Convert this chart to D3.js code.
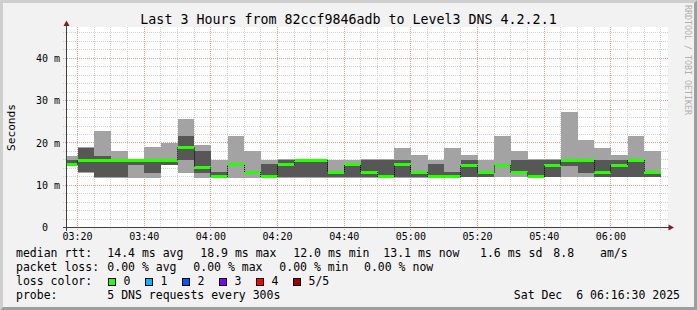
<!DOCTYPE html>
<html>
<meta charset="utf-8">
<style>
  body { margin: 0; background: #f2f2f2; }
  svg text { font-family: "DejaVu Sans Mono", monospace; fill: #000; white-space: pre; }
</style>
<svg width="697" height="310"></svg>
<script src="https://d3js.org/d3.v7.min.js"></script>
<script>

  // end time of each 5 minute step
  var stepEnds = ["03:20", "03:25", "03:30", "03:35", "03:40", "03:45", "03:50", "03:55", "04:00",
    "04:05", "04:10", "04:15", "04:20", "04:25", "04:30", "04:35", "04:40", "04:45", "04:50",
    "04:55", "05:00", "05:05", "05:10", "05:15", "05:20", "05:25", "05:30", "05:35", "05:40",
    "05:45", "05:50", "05:55", "06:00", "06:05", "06:10", "06:15"];

  // 5 pings per step, sorted: min, 2nd, median, 4th, max (ms)
  var pingMin = [14.5, 13.0, 11.8, 11.8, 11.8, 11.8, 14.7, 13.0, 11.8, 11.8, 11.8, 11.8, 11.8, 11.8, 11.8, 11.8, 11.8, 11.8,
    11.8, 11.8, 11.8, 11.8, 11.8, 11.8, 11.9, 11.9, 11.9, 11.9, 11.8, 11.9, 11.9, 11.9, 11.9, 11.9, 11.9, 11.9];
  var ping2 = [14.6, 13.1, 11.9, 11.9, 14.7, 13.0, 14.8, 15.9, 13.0, 11.9, 14.6, 12.9, 11.9, 11.9, 11.9, 11.9, 11.9, 11.9,
    11.9, 11.9, 11.9, 11.9, 11.9, 11.9, 12.0, 12.0, 14.5, 12.8, 11.9, 12.0, 14.6, 13.0, 12.0, 12.0, 12.0, 12.0];
  var pingMedian = [14.9, 15.9, 15.9, 15.9, 15.9, 15.9, 15.9, 18.9, 14.2, 12.0, 14.8, 13.1, 12.0, 14.8, 15.9, 15.9, 13.1, 14.8,
    13.1, 12.0, 14.8, 13.1, 12.0, 12.0, 14.7, 13.0, 14.7, 13.0, 12.0, 14.7, 15.9, 15.9, 13.0, 14.75, 15.9, 13.1];
  var ping4 = [16.0, 18.9, 17.0, 16.1, 16.0, 16.1, 16.0, 21.7, 18.2, 13.05, 15.0, 13.3, 14.9, 16.0, 16.0, 16.0, 13.3, 15.0,
    16.0, 16.0, 16.0, 13.3, 14.9, 13.05, 16.0, 13.2, 14.9, 16.0, 16.0, 16.0, 16.0, 16.0, 16.0, 16.0, 16.1, 13.2];
  var pingMax = [16.8, 19.0, 22.9, 18.2, 16.2, 19.0, 20.0, 25.7, 19.4, 16.0, 21.7, 18.2, 16.0, 16.1, 16.1, 16.1, 16.0, 16.0,
    16.1, 16.1, 18.9, 17.1, 16.0, 18.9, 17.1, 16.0, 21.7, 18.2, 16.1, 16.1, 27.4, 20.6, 18.9, 17.2, 21.7, 18.2];

  var yTicks = [0, 10, 20, 30, 40];
  var yTickLabels = ["0", "10 m", "20 m", "30 m", "40 m"];
  var xTickLabels = ["03:20", "03:40", "04:00", "04:20", "04:40", "05:00", "05:20", "05:40", "06:00"];

  var lossLabels = ["0", "1", "2", "3", "4", "5/5"];
  var lossColors = ["#26ff00", "#00b8ff", "#0059ff", "#7e00ff", "#ff0000", "#a10000"];

  var medianStats = ["14.4 ms avg", "18.9 ms max", "12.0 ms min", "13.1 ms now", "1.6 ms sd", "8.8", "am/s"];
  var lossStats = ["0.00 % avg", "0.00 % max", "0.00 % min", "0.00 % now"];

  var day = "2025-12-06 ";
  var parseTime = d3.timeParse("%Y-%m-%d %H:%M:%S");
  var tStart = parseTime(day + "03:16:50"),
    tEnd = parseTime(day + "06:16:50");

  var svg = d3.select("svg");

  // 背景 + rrdtool 风格的边框
  svg.append("rect").attr("width", 697).attr("height", 310).attr("fill", "#f2f2f2");
  svg.append("path").attr("d", "M0,0H697L694,3H3V307L0,310Z").attr("fill", "#cfcfcf");
  svg.append("path").attr("d", "M697,0V310H0L3,307H694V3Z").attr("fill", "#9e9e9e");

  var x = d3.scaleTime().domain([tStart, tEnd]).range([67, 667]);
  var y = d3.scaleLinear().domain([0, 47.3]).range([227.5, 27.5]);

  function snap(v) { return Math.round(v - 0.5) + 0.5; }

  // 画布
  svg.append("rect")
    .attr("x", 67).attr("y", 27).attr("width", 601).attr("height", 201)
    .attr("fill", "#fff");

  // 网格
  var grid = svg.append("g").attr("stroke-width", 1).attr("stroke-dasharray", "1,1").attr("fill", "none");

  var minorY = d3.range(2, 47, 2).filter(function (d) { return d % 10 != 0; });
  grid.selectAll(".hmin").data(minorY).enter().append("line")
    .attr("x1", 63).attr("x2", 669)
    .attr("y1", function (d) { return snap(y(d)); })
    .attr("y2", function (d) { return snap(y(d)); })
    .attr("stroke", "#d2d2d2");

  var minorX = d3.timeMinute.every(5).range(tStart, tEnd).filter(function (d) { return d.getMinutes() % 20 != 0; });
  grid.selectAll(".vmin").data(minorX).enter().append("line")
    .attr("y1", 27).attr("y2", 230)
    .attr("x1", function (d) { return snap(x(d)); })
    .attr("x2", function (d) { return snap(x(d)); })
    .attr("stroke", "#d2d2d2");

  grid.selectAll(".hmaj").data(yTicks.slice(1)).enter().append("line")
    .attr("x1", 63).attr("x2", 669)
    .attr("y1", function (d) { return snap(y(d)); })
    .attr("y2", function (d) { return snap(y(d)); })
    .attr("stroke", "#ee9a9a");

  var majorX = d3.timeMinute.every(20).range(tStart, tEnd);
  grid.selectAll(".vmaj").data(majorX).enter().append("line")
    .attr("y1", 27).attr("y2", 231)
    .attr("x1", function (d) { return snap(x(d)); })
    .attr("x2", function (d) { return snap(x(d)); })
    .attr("stroke", "#ee9a9a");

  // 每个步长的时间区间
  var steps = stepEnds.map(function (s, i) {
    var end = parseTime(day + s + ":00");
    var start = d3.timeMinute.offset(end, -5);
    if (start < tStart) start = tStart;
    return { start: start, end: end, min: pingMin[i], p2: ping2[i], med: pingMedian[i], p4: ping4[i], max: pingMax[i] };
  });

  var smoke = svg.append("g").attr("shape-rendering", "crispEdges");

  // 外层烟雾 (min - max)
  smoke.selectAll(".outer").data(steps).enter().append("rect")
    .attr("x", function (d) { return x(d.start); })
    .attr("width", function (d) { return x(d.end) - x(d.start); })
    .attr("y", function (d) { return y(d.max); })
    .attr("height", function (d) { return y(d.min) - y(d.max); })
    .attr("fill", "#a3a3a3");

  // 内层烟雾 (2nd - 4th)
  smoke.selectAll(".inner").data(steps).enter().append("rect")
    .attr("x", function (d) { return x(d.start); })
    .attr("width", function (d) { return x(d.end) - x(d.start); })
    .attr("y", function (d) { return y(d.p4); })
    .attr("height", function (d) { return y(d.p2) - y(d.p4); })
    .attr("fill", "#575757");

  // 中位数之间的连接线
  svg.append("g").selectAll("line").data(steps.slice(1)).enter().append("line")
    .attr("x1", function (d) { return snap(x(d.start)); })
    .attr("x2", function (d) { return snap(x(d.start)); })
    .attr("y1", function (d, i) { return y(steps[i].med); })
    .attr("y2", function (d) { return y(d.med); })
    .attr("stroke", "#000").attr("stroke-dasharray", "1,1");

  // 中位数 (丢包 0 = 绿色)
  smoke.selectAll(".median").data(steps).enter().append("rect")
    .attr("x", function (d) { return x(d.start); })
    .attr("width", function (d) { return x(d.end) - x(d.start); })
    .attr("y", function (d) { return y(d.med) - 1.5; })
    .attr("height", 3)
    .attr("fill", lossColors[0]);

  // 坐标轴
  var axis = svg.append("g").attr("stroke", "#404040").attr("fill", "none").attr("shape-rendering", "crispEdges");
  axis.append("line").attr("x1", 66.5).attr("x2", 66.5).attr("y1", 25).attr("y2", 231);
  axis.append("line").attr("x1", 63).attr("x2", 669).attr("y1", 227.5).attr("y2", 227.5);
  svg.append("path").attr("d", "M66.5,20.5L69.5,26L63.5,26Z").attr("fill", "#7f1f1f");
  svg.append("path").attr("d", "M674,227.5L668.5,224.5L668.5,230.5Z").attr("fill", "#7f1f1f");

  // 刻度标签
  svg.selectAll(".ylab").data(yTicks).enter().append("text")
    .attr("x", function (d) { return d == 0 ? 48 : 60; })
    .attr("y", function (d) { return y(d) + 3.6; })
    .attr("text-anchor", "end")
    .attr("font-size", 10)
    .text(function (d, i) { return yTickLabels[i]; });

  svg.selectAll(".xlab").data(majorX).enter().append("text")
    .attr("x", function (d) { return x(d); })
    .attr("y", 240)
    .attr("text-anchor", "middle")
    .attr("font-size", 10)
    .text(function (d, i) { return xTickLabels[i]; });

  svg.append("text")
    .attr("transform", "translate(15,127.5) rotate(-90)")
    .attr("text-anchor", "middle")
    .attr("font-size", 11.2)
    .text("Seconds");

  svg.append("text")
    .attr("x", 348.5).attr("y", 24)
    .attr("text-anchor", "middle")
    .attr("font-size", 13.3)
    .text("Last 3 Hours from 82ccf9846adb to Level3 DNS 4.2.2.1");

  svg.append("text")
    .attr("transform", "translate(685,5) rotate(90)")
    .attr("font-size", 8.3)
    .style("fill", "#b0b0b0")
    .text("RRDTOOL / TOBI OETIKER");

  // 图例
  var legend = svg.append("g").attr("font-size", 11.5);
  var medX = [107.3, 200.3, 293.3, 383.3, 480, 553.3, 600];
  legend.append("text").attr("x", 16).attr("y", 257).text("median rtt:");
  legend.selectAll(".med").data(medianStats).enter().append("text")
    .attr("x", function (d, i) { return medX[i]; }).attr("y", 257)
    .text(function (d) { return d; });

  var lossX = [107.3, 193.3, 279.3, 364];
  legend.append("text").attr("x", 16).attr("y", 271).text("packet loss:");
  legend.selectAll(".loss").data(lossStats).enter().append("text")
    .attr("x", function (d, i) { return lossX[i]; }).attr("y", 271)
    .text(function (d) { return d; });

  legend.append("text").attr("x", 16).attr("y", 285).text("loss color:");
  var swatch = legend.selectAll(".sw").data(lossLabels).enter().append("g")
    .attr("transform", function (d, i) { return "translate(" + (108.5 + i * 37) + ",0)"; });
  swatch.append("rect")
    .attr("x", 0).attr("y", 278.5).attr("width", 7).attr("height", 7)
    .attr("fill", function (d, i) { return lossColors[i]; })
    .attr("stroke", "#000").attr("shape-rendering", "crispEdges");
  swatch.append("text").attr("x", 15).attr("y", 285).text(function (d) { return d; });

  legend.append("text").attr("x", 16).attr("y", 299).text("probe:");
  legend.append("text").attr("x", 107.3).attr("y", 299).text("5 DNS requests every 300s");
  legend.append("text").attr("x", 680).attr("y", 299).attr("text-anchor", "end")
    .text("Sat Dec \u00a06 06:16:30 2025");

</script>
</html>
